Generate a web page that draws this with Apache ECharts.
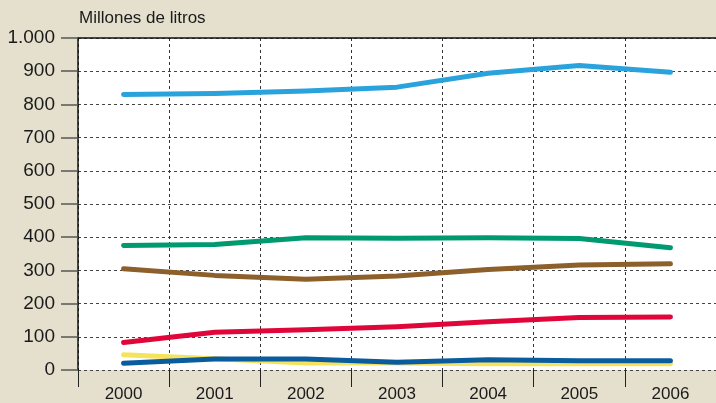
<!DOCTYPE html>
<html><head><meta charset="utf-8">
<script src="https://cdn.jsdelivr.net/npm/echarts@6/dist/echarts.min.js"></script>
<style>html,body{margin:0;padding:0;background:#e4e0cd;}#c{width:716px;height:403px;}</style>
</head><body><div id="c"></div>
<script>
var years = ['2000','2001','2002','2003','2004','2005','2006'];
var yTicks = [0,100,200,300,400,500,600,700,800,900,1000];
var lightBlue = [830, 833, 840, 852, 894, 917, 897];
var green     = [375, 378, 398, 397, 398, 396, 368];
var brown     = [305, 285, 273, 283, 303, 316, 320];
var red       = [83, 114, 121, 130, 145, 158, 160];
var yellow    = [46, 34, 21, 21, 19, 19, 19];
var darkBlue  = [20, 33, 33, 23, 31, 28, 28];

var seriesDefs = [
  {name:'a', data: lightBlue, color:'#2aa3dd'},
  {name:'b', data: green, color:'#009a70'},
  {name:'c', data: brown, color:'#8c5f2b'},
  {name:'d', data: red, color:'#e1063a'},
  {name:'e', data: yellow, color:'#f6e35c'},
  {name:'f', data: darkBlue, color:'#0a5c9e'}
];
var chart = echarts.init(document.getElementById('c'), null, {renderer:'canvas'});
chart.setOption({
  backgroundColor:'#e4e0cd',
  animation:false,
  title:{text:'Millones de litros', left:79, top:10, padding:0, textStyle:{fontFamily:'Liberation Sans', fontSize:17, fontWeight:'normal', color:'#1a1a1a'}},
  grid:{left:78, top:38, width:644, height:333, show:true, backgroundColor:'#ffffff', borderWidth:0},
  xAxis:[{
    type:'category', data:years, boundaryGap:true,
    axisLine:{show:false},
    axisTick:{show:true, length:17, interval:0, lineStyle:{color:'#222', width:1}},
    axisLabel:{fontFamily:'Liberation Sans', fontSize:17, color:'#1a1a1a', margin:16},
    splitLine:{show:true, interval:0, lineStyle:{color:'#333', width:1, type:[3,3]}}
  },{
    type:'category', data:years, position:'top',
    axisLine:{show:true, lineStyle:{color:'#111', width:1.5}},
    axisTick:{show:false}, axisLabel:{show:false}, splitLine:{show:false}
  }],
  yAxis:{
    type:'value', min:yTicks[0], max:yTicks[yTicks.length-1], interval:100,
    axisLine:{show:true, lineStyle:{color:'#111', width:1.5}},
    axisTick:{show:true, length:17, lineStyle:{color:'#555', width:1.5}},
    axisLabel:{fontFamily:'Liberation Sans', fontSize:19, color:'#1a1a1a', margin:23,
      formatter:function(v){return v>=1000 ? (Math.floor(v/1000)+'.'+String(v%1000).padStart(3,'0')) : String(v);}},
    splitLine:{show:true, lineStyle:{color:'#444', width:1, type:[3,3]}}
  },
  series: seriesDefs.map(function(s){
    return {name:s.name, type:'line', data:s.data, symbol:'none', smooth:false,
      lineStyle:{color:s.color, width:5, cap:'round', join:'round'}, itemStyle:{color:s.color}};
  })
});
</script></body></html>
